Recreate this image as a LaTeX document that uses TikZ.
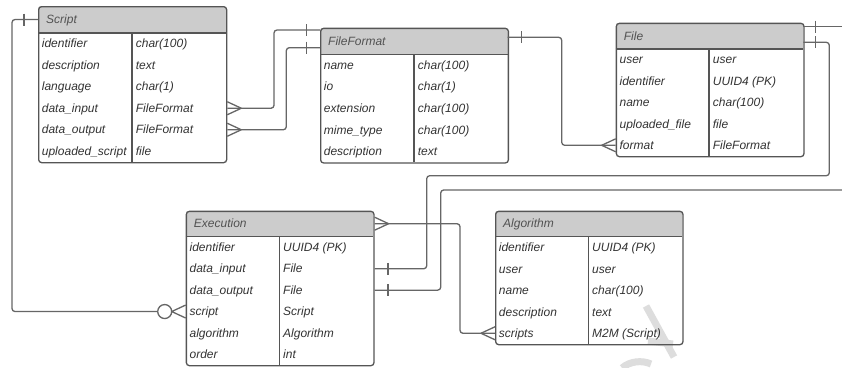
\documentclass[tikz,border=0pt]{standalone}
\usepackage{fontspec}
\setmainfont{Liberation Sans}
\definecolor{hdr}{HTML}{CCCCCC}
\definecolor{bord}{HTML}{555555}
\definecolor{connc}{HTML}{666666}
\definecolor{txt}{HTML}{333333}
\definecolor{wm}{HTML}{DDDDDD}
\tikzset{
  tablebox/.style={draw=bord, line width=1.3pt, rounded corners=3pt, inner sep=0pt},
  tableline/.style={draw=bord, line width=1.3pt},
  celltext/.style={font=\itshape\fontsize{12}{14}\selectfont, text=txt, inner sep=0pt, anchor=base west},
  hdrtext/.style={celltext, text=txt!85!white},
  connline/.style={draw=connc, line width=1.3pt, rounded corners=3pt},
  tickmark/.style={draw=connc, line width=1.3pt},
  zerocircle/.style={circle, draw=connc, line width=1.3pt, fill=white, minimum size=14pt, inner sep=0pt},
  wmstroke/.style={draw=wm, line width=7pt},
}
% name, x1, y1, x2, yheader, y2, xdivider, title
\newcommand\ertable[8]{%
  \def\erxa{#2}\def\erya{#3}\def\erxb{#4}\def\eryh{#5}\def\eryb{#6}\def\erxd{#7}\def\ername{#1}%
  \begin{scope}
    \clip[rounded corners=3pt] (#2,#3) rectangle (#4,#6);
    \fill[hdr] (#2,#3) rectangle (#4,#5);
  \end{scope}
  \node[tablebox, anchor=north west, minimum width={(#4-#2)*1pt}, minimum height={(#6-#3)*1pt}] (#1) at (#2,#3) {};
  \draw[tableline] (#2,#5) -- (#4,#5) (#7,#5) -- (#7,#6);
  \coordinate (#1-h) at (#2,{(#3+#5)/2});
  \node[hdrtext] (#1-title) at ({#2+8},{(#3+#5)/2+4.2}) {#8};
}
% number of rows, list name/type
\newcommand\errows[2]{%
  \pgfmathsetmacro\errh{(\eryb-\eryh)/#1}%
  \foreach [count=\i] \a/\b in {#2} {
    \pgfmathsetmacro\erry{\eryh+(\i-0.5)*\errh}
    \coordinate (\ername-r\i) at (\erxa,\erry);
    \node[celltext] (\ername-a\i) at ({\erxa+3.7},{\erry+4.2}) {\a};
    \node[celltext] (\ername-b\i) at ({\erxd+3.7},{\erry+4.2}) {\b};
  }
}
% crow's foot, table on the left of the point
\newcommand\crowR[1]{\draw[tickmark] (#1) ++(14,0) -- ++(-14,-6.5) ++(14,6.5) -- ++(-14,6.5);}
% crow's foot, table on the right of the point
\newcommand\crowL[1]{\draw[tickmark] (#1) ++(-14,0) -- ++(14,-6.5) ++(-14,6.5) -- ++(14,6.5);}
% bar at a horizontal offset
\newcommand\barmark[2]{\draw[tickmark] (#1) ++(#2,-6) -- ++(0,12);}
\begin{document}
\begin{tikzpicture}[x=1pt,y=-1pt]
\fill[white] (0,0) rectangle (842,367);
\useasboundingbox (0,0) rectangle (842,367);

% watermark fragment
\draw[wmstroke] (646,306) -- (674,357);
\draw[wmstroke] (648,341) -- (673,344);
\draw[wmstroke] (622,368) .. controls (630,361) and (642,360) .. (651,364);

% tables
\ertable{script}{38}{6}{226}{33}{162}{132}{Script}
\errows{6}{identifier/char(100), description/text, language/char(1), data\_input/FileFormat, data\_output/FileFormat, uploaded\_script/file}

\ertable{ff}{320}{27.7}{507.7}{54.3}{162.3}{414}{FileFormat}
\errows{5}{name/char(100), io/char(1), extension/char(100), mime\_type/char(100), description/text}

\ertable{file}{615.7}{22.7}{803.3}{49}{156}{709}{File}
\errows{5}{user/user, identifier/UUID4 (PK), name/char(100), uploaded\_file/file, format/FileFormat}

\ertable{exec}{185.7}{210.7}{373.3}{236.7}{365}{279.3}{Execution}
\errows{6}{identifier/UUID4 (PK), data\_input/File, data\_output/File, script/Script, algorithm/Algorithm, order/int}

\ertable{algo}{495}{210.7}{682.3}{236.7}{344}{588.3}{Algorithm}
\errows{5}{identifier/UUID4 (PK), user/user, name/char(100), description/text, scripts/M2M (Script)}

% connector end points
\coordinate (ffin1) at (320,30);
\coordinate (ffin2) at (320,47.7);
\coordinate (ffout) at (507.7,37.3);
\coordinate (fo1) at (803.3,26.7);
\coordinate (fo2) at (803.3,42.3);
\coordinate (edge1) at (842,26.7);
\coordinate (edge2) at (842,190);

% Script -> Execution.script (one to zero-or-many)
\node[zerocircle] (zero) at ([xshift=-21pt]exec-r4) {};
\draw[connline] (script-h) -- ++(-26,0) |- (zero);
\barmark{script-h}{-14}
\crowL{exec-r4}

% Script.data_input / data_output -> FileFormat
\draw[connline] (script.east |- script-r4) -- ++(46.7,0) |- (ffin1);
\crowR{script.east |- script-r4}
\barmark{ffin1}{-13.3}
\draw[connline] (script.east |- script-r5) -- ++(59,0) |- (ffin2);
\crowR{script.east |- script-r5}
\barmark{ffin2}{-13.3}

% FileFormat -> File.format
\draw[connline] (ffout) -- ++(54,0) |- (file.west |- file-r5);
\barmark{ffout}{14}
\crowL{file.west |- file-r5}

% File -> off edge
\draw[connline] (fo1) -- (edge1);
\barmark{fo1}{12.4}

% File -> Execution.data_input
\draw[connline] (fo2) -- (829.3,42.3) -- (829.3,175.7) -- (426.7,175.7) |- (exec.east |- exec-r2);
\barmark{fo2}{12.4}
\barmark{exec.east |- exec-r2}{13.4}

% off edge -> Execution.data_output
\draw[connline] (edge2) -- (440.7,190) |- (exec.east |- exec-r3);
\barmark{exec.east |- exec-r3}{13.4}

% Execution <-> Algorithm.scripts
\draw[connline] (exec.east |- exec-h) -- (460,223.7) |- (algo.west |- algo-r5);
\crowR{exec.east |- exec-h}
\crowL{algo.west |- algo-r5}
\end{tikzpicture}
\end{document}
